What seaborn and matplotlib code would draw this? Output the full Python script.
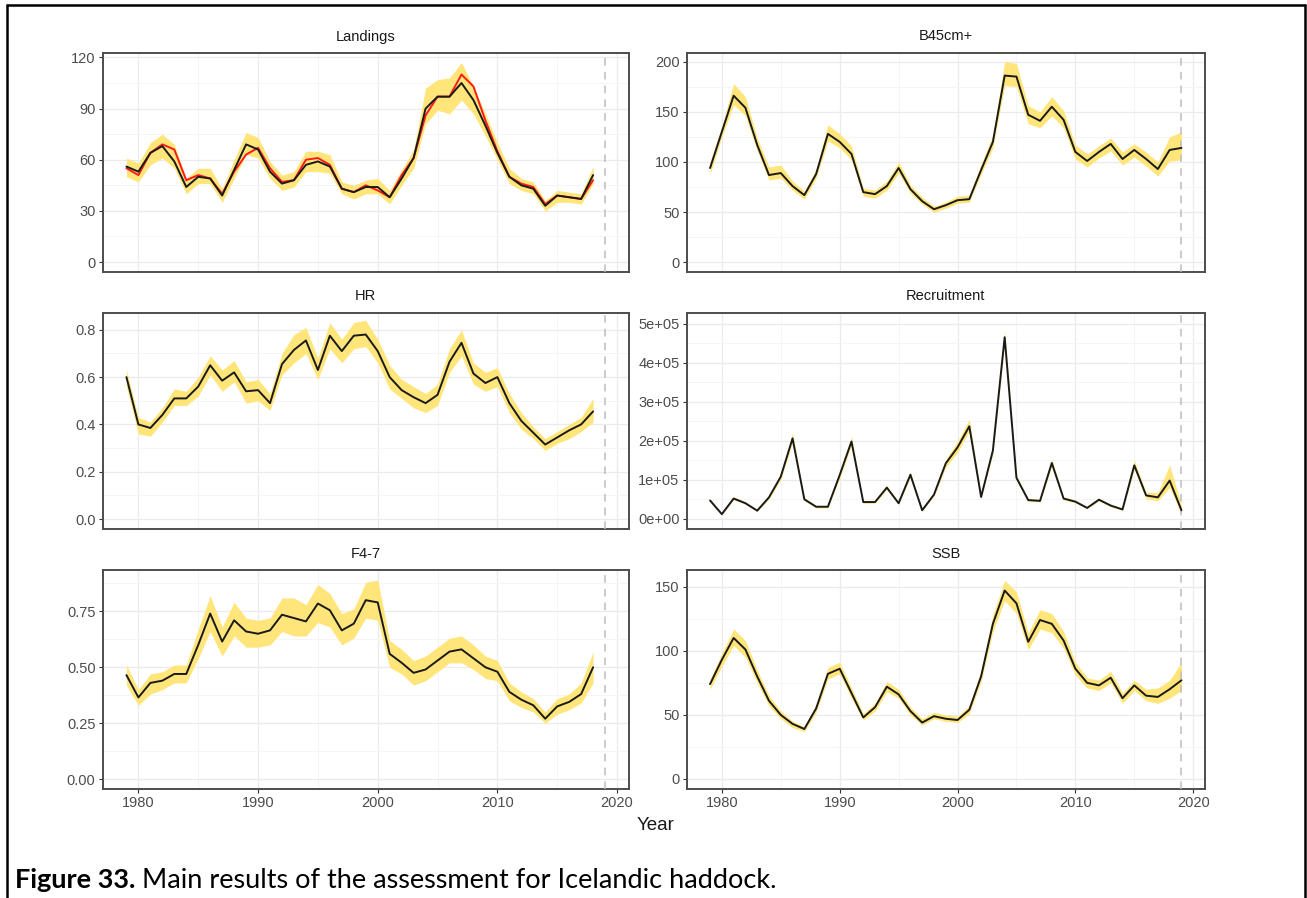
import numpy as np
import pandas as pd
import seaborn as sns
import matplotlib.pyplot as plt

# ---- data --------------------------------------------------------------
years = list(range(1979, 2020))          # 1979..2019
years_hist = years[:-1]                  # 1979..2018 (catch based series)

landings_obs = [55, 51, 64, 69, 66, 48, 51, 49, 40, 53, 63, 67, 55, 47, 48, 60, 61, 57, 43, 41,
                45, 42, 38, 51, 61, 86, 97, 97, 110, 103, 83, 65, 50, 46, 44, 34, 39, 38, 37, 48]
landings_est = [56, 53, 64, 68, 59, 44, 50, 49, 39, 54, 69, 66, 53, 46, 48, 57, 59, 56, 43, 41,
                44, 44, 38, 49, 61, 90, 97, 97, 105, 95, 80, 64, 50, 45, 43, 33, 39, 38, 37, 51]
landings_lo = [50, 47, 57, 61, 55, 40, 46, 46, 35, 49, 63, 61, 49, 42, 44, 53, 53, 52, 40, 37,
               40, 40, 34, 45, 55, 81, 89, 87, 95, 87, 74, 60, 46, 42, 40, 30, 35, 35, 34, 46]
landings_hi = [61, 58, 70, 75, 69, 49, 55, 55, 43, 60, 76, 73, 59, 51, 53, 65, 65, 63, 47, 45,
               48, 49, 42, 54, 66, 102, 107, 108, 117, 103, 87, 70, 55, 49, 47, 36, 42, 41, 40, 56]

b45_est = [94, 130, 166, 154, 117, 87, 89, 76, 67, 88, 128, 120, 108, 70, 68, 76, 94, 73, 61, 53,
           57, 62, 63, 92, 120, 186, 185, 147, 141, 155, 142, 110, 101, 110, 118, 103, 112, 103, 93, 112, 114]
b45_lo = [88, 125, 157, 146, 111, 82, 84, 72, 63, 84, 121, 114, 102, 66, 64, 72, 89, 69, 58, 50,
          54, 59, 60, 88, 114, 176, 175, 138, 134, 146, 134, 103, 95, 104, 111, 97, 105, 96, 86, 101, 102]
b45_hi = [100, 136, 178, 165, 124, 95, 97, 81, 71, 93, 137, 128, 116, 74, 72, 81, 100, 77, 65, 56,
          60, 66, 67, 98, 127, 200, 198, 156, 150, 165, 151, 117, 108, 116, 124, 110, 118, 110, 100, 125, 130]

hr_est = [0.60, 0.40, 0.385, 0.44, 0.51, 0.51, 0.56, 0.65, 0.585, 0.62, 0.54, 0.545, 0.49, 0.655,
          0.715, 0.755, 0.63, 0.775, 0.71, 0.775, 0.78, 0.71, 0.60, 0.545, 0.515, 0.49, 0.525, 0.665,
          0.745, 0.615, 0.575, 0.60, 0.49, 0.415, 0.365, 0.315, 0.345, 0.375, 0.40, 0.455]
hr_lo = [0.56, 0.36, 0.35, 0.41, 0.48, 0.48, 0.52, 0.61, 0.54, 0.58, 0.49, 0.50, 0.46, 0.61,
         0.66, 0.70, 0.59, 0.72, 0.66, 0.72, 0.73, 0.66, 0.55, 0.51, 0.47, 0.45, 0.48, 0.62,
         0.69, 0.57, 0.54, 0.56, 0.45, 0.38, 0.34, 0.29, 0.32, 0.34, 0.37, 0.41]
hr_hi = [0.63, 0.43, 0.41, 0.47, 0.55, 0.54, 0.60, 0.69, 0.63, 0.67, 0.58, 0.59, 0.53, 0.70,
         0.78, 0.81, 0.68, 0.83, 0.76, 0.83, 0.84, 0.76, 0.65, 0.59, 0.56, 0.53, 0.57, 0.72,
         0.80, 0.66, 0.62, 0.64, 0.53, 0.45, 0.39, 0.34, 0.37, 0.40, 0.43, 0.51]

rec_est = [47, 12, 52, 40, 21, 55, 108, 206, 50, 31, 31, 112, 198, 43, 43, 80, 40, 113, 22, 62,
           142, 183, 237, 56, 175, 465, 105, 48, 46, 143, 52, 44, 28, 49, 34, 24, 137, 60, 55, 98, 22]
rec_lo = [44, 10, 49, 37, 19, 51, 101, 195, 46, 28, 28, 104, 188, 40, 40, 75, 37, 106, 20, 58,
          132, 170, 225, 52, 166, 450, 99, 45, 43, 134, 48, 41, 26, 46, 31, 22, 127, 52, 46, 80, 12]
rec_hi = [51, 14, 56, 43, 23, 59, 115, 220, 54, 34, 34, 120, 210, 46, 46, 85, 43, 121, 24, 66,
          152, 198, 255, 60, 185, 480, 112, 52, 50, 152, 56, 47, 31, 53, 37, 27, 150, 68, 67, 138, 35]

f47_est = [0.465, 0.365, 0.43, 0.44, 0.47, 0.47, 0.60, 0.74, 0.615, 0.71, 0.66, 0.65, 0.665, 0.735,
           0.72, 0.705, 0.785, 0.755, 0.665, 0.695, 0.80, 0.79, 0.56, 0.52, 0.475, 0.49, 0.53, 0.57,
           0.58, 0.54, 0.50, 0.48, 0.39, 0.355, 0.33, 0.27, 0.325, 0.345, 0.38, 0.50]
f47_lo = [0.42, 0.33, 0.38, 0.40, 0.43, 0.43, 0.54, 0.66, 0.55, 0.64, 0.59, 0.59, 0.60, 0.66,
          0.64, 0.64, 0.70, 0.68, 0.60, 0.63, 0.72, 0.71, 0.50, 0.47, 0.42, 0.44, 0.48, 0.52,
          0.52, 0.49, 0.45, 0.44, 0.35, 0.32, 0.30, 0.25, 0.29, 0.31, 0.34, 0.43]
f47_hi = [0.51, 0.40, 0.47, 0.48, 0.51, 0.51, 0.67, 0.82, 0.68, 0.79, 0.72, 0.71, 0.72, 0.81,
          0.81, 0.78, 0.87, 0.83, 0.74, 0.76, 0.88, 0.89, 0.62, 0.58, 0.53, 0.55, 0.59, 0.63,
          0.64, 0.60, 0.55, 0.53, 0.43, 0.39, 0.36, 0.30, 0.36, 0.38, 0.43, 0.57]

ssb_est = [74, 93, 110, 101, 80, 61, 50, 43, 39, 55, 82, 86, 67, 48, 56, 72, 66, 53, 44, 49,
           47, 46, 54, 80, 121, 147, 137, 107, 124, 121, 108, 86, 75, 73, 79, 63, 73, 65, 64, 70, 77]
ssb_lo = [70, 88, 104, 95, 75, 57, 47, 40, 37, 52, 78, 82, 63, 46, 53, 68, 63, 50, 42, 47,
          45, 44, 51, 76, 115, 139, 129, 101, 117, 114, 102, 81, 71, 69, 75, 59, 69, 61, 59, 63, 69]
ssb_hi = [78, 98, 117, 108, 85, 65, 53, 45, 41, 58, 87, 91, 71, 51, 59, 76, 70, 56, 47, 52,
          50, 49, 57, 85, 128, 155, 146, 114, 132, 129, 115, 91, 79, 77, 84, 67, 77, 70, 71, 77, 91]

rec_ticks = [0, 1e5, 2e5, 3e5, 4e5, 5e5]
rec_labels = ["0e+00", "1e+05", "2e+05", "3e+05", "4e+05", "5e+05"]

# ---- style --------------------------------------------------------------
sns.set_theme(style="white")
plt.rcParams["font.family"] = ["Liberation Sans", "DejaVu Sans"]

W, H = 1307, 898
fig = plt.figure(figsize=(W / 100, H / 100), dpi=100)

RIBBON = "#FFE57A"
LINE = "#1A1A1A"

# panel boxes in pixels: (x0, x1, y_top, y_bottom)
cols = [(102.5, 629), (686.5, 1205)]
rows = [(53, 272), (313, 529), (570, 789)]

panels = [
    dict(title="Landings", x=years_hist, est=landings_est, lo=landings_lo, hi=landings_hi,
         obs=landings_obs, ylim=(-5.85, 122.6), major=30),
    dict(title="B45cm+", x=years, est=b45_est, lo=b45_lo, hi=b45_hi, ylim=(-9.5, 208.5), major=50),
    dict(title="HR", x=years_hist, est=hr_est, lo=hr_lo, hi=hr_hi, ylim=(-0.042, 0.871), major=0.2),
    dict(title="Recruitment", x=years, est=[v * 1000 for v in rec_est], lo=[v * 1000 for v in rec_lo],
         hi=[v * 1000 for v in rec_hi], ylim=(-0.26e5, 5.27e5), major=1e5),
    dict(title="F4-7", x=years_hist, est=f47_est, lo=f47_lo, hi=f47_hi, ylim=(-0.0445, 0.935), major=0.25),
    dict(title="SSB", x=years, est=ssb_est, lo=ssb_lo, hi=ssb_hi, ylim=(-7.8, 163), major=50),
]

for i, p in enumerate(panels):
    r, c = divmod(i, 2)
    x0, x1 = cols[c]
    yt, yb = rows[r]
    ax = fig.add_axes([x0 / W, 1 - yb / H, (x1 - x0) / W, (yb - yt) / H])

    ax.fill_between(p["x"], p["lo"], p["hi"], color=RIBBON, lw=0, zorder=2)
    if "obs" in p:
        sns.lineplot(x=p["x"], y=p["obs"], ax=ax, color="#FF1A1A", lw=1.4, zorder=3)
    sns.lineplot(x=p["x"], y=p["est"], ax=ax, color=LINE, lw=1.4, zorder=4)
    ax.axvline(2019, color="#BDBDBD", lw=1.1, ls=(0, (5, 4)), zorder=3)

    ax.set_xlim(1977, 2021)
    ax.set_ylim(*p["ylim"])
    m = p["major"]
    ymax = p["ylim"][1]
    ax.set_yticks(np.arange(0, ymax, m))
    ax.set_yticks(np.arange(m / 2, ymax, m), minor=True)
    ax.set_xticks([1980, 1990, 2000, 2010, 2020])
    ax.set_xticks([1985, 1995, 2005, 2015], minor=True)
    if p["title"] == "Recruitment":
        ax.set_yticks(rec_ticks, rec_labels)

    ax.grid(True, which="major", color="#EBEBEB", lw=0.9, zorder=0)
    ax.grid(True, which="minor", color="#F4F4F4", lw=0.6, zorder=0)
    ax.set_axisbelow(True)

    for s in ax.spines.values():
        s.set_color("#4D4D4D")
        s.set_linewidth(1.4)

    ax.tick_params(axis="y", which="major", length=3, width=0.8, color="#333333",
                   labelsize=10.5, labelcolor="#4D4D4D", pad=2, left=True)
    ax.tick_params(axis="y", which="minor", length=0)
    if r == 2:
        ax.tick_params(axis="x", which="major", length=3, width=0.8, color="#333333",
                       labelsize=10.5, labelcolor="#4D4D4D", pad=2, bottom=True)
    else:
        ax.tick_params(axis="x", which="major", length=0, labelbottom=False)
    ax.tick_params(axis="x", which="minor", length=0)
    ax.set_xlabel("")
    ax.set_ylabel("")
    ax.set_title(p["title"], fontsize=10.5, color="#1A1A1A", pad=9)

fig.text(656 / W, 1 - 826 / H, "Year", ha="center", va="center", fontsize=13.5, color="#1A1A1A")

# outer frame (left, top, right)
fig.add_artist(plt.Line2D([7 / W, 7 / W], [0, 1 - 5 / H], color="black", lw=1.8))
fig.add_artist(plt.Line2D([7 / W, 1305 / W], [1 - 5 / H, 1 - 5 / H], color="black", lw=1.8))
fig.add_artist(plt.Line2D([1305 / W, 1305 / W], [0, 1 - 5 / H], color="black", lw=1.8))

# caption
cap_y = 1 - 880 / H
t1 = fig.text(15 / W, cap_y, "Figure 33.", ha="left", va="center", fontsize=19.5,
              fontweight="bold", family=["Lato", "DejaVu Sans"], color="black")
renderer = fig.canvas.get_renderer()
bb = t1.get_window_extent(renderer)
fig.text((bb.x1 + 7) / W, cap_y, "Main results of the assessment for Icelandic haddock.",
         ha="left", va="center", fontsize=19.5, family=["Lato", "DejaVu Sans"], color="black")

fig.savefig("out.png", dpi=100)
